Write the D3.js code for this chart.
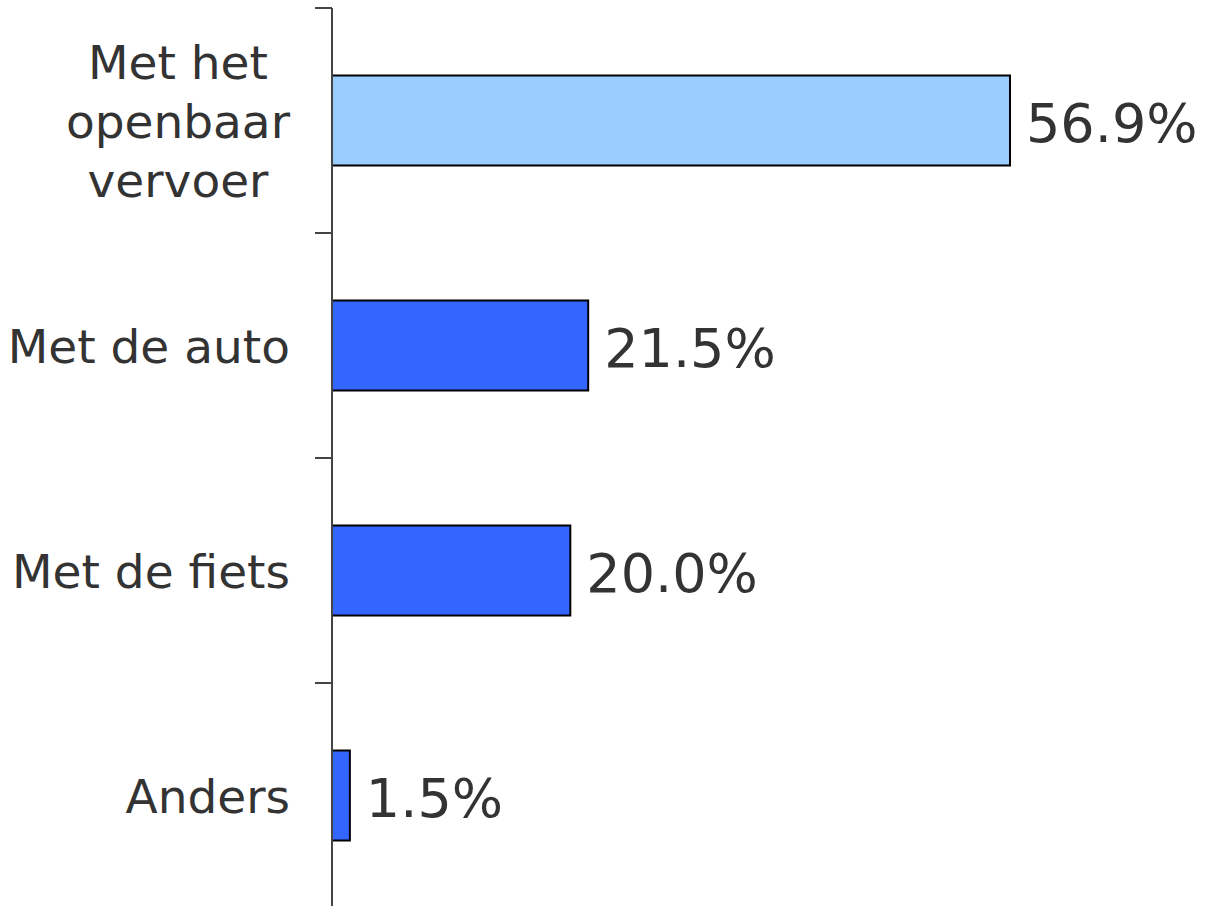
<!DOCTYPE html>
<html>
<head>
<meta charset="utf-8">
<script src="https://cdn.jsdelivr.net/npm/d3@7"></script>
<style>
  body { margin: 0; background: #fff; }
  text { font-family: Verdana, "DejaVu Sans", sans-serif; fill: #333; }
</style>
</head>
<body>
<div id="chart"></div>
<script>
// chart data
const categories = [["Met het", "openbaar", "vervoer"], ["Met de auto"], ["Met de fiets"], ["Anders"]];
const values = [56.9, 21.5, 20.0, 1.5];
const valueLabels = ["56.9%", "21.5%", "20.0%", "1.5%"];
const barColors = ["#99ccff", "#3366ff", "#3366ff", "#3366ff"];

const width = 1206, height = 906;
const margin = {top: 8, right: 0, bottom: 0, left: 332};

const svg = d3.select("#chart").append("svg")
    .attr("width", width)
    .attr("height", height);

const x = d3.scaleLinear()
    .domain([0, 56.9])
    .range([margin.left, 1010]);

const y = d3.scaleBand()
    .domain(d3.range(values.length))
    .range([margin.top, margin.top + 900])
    .paddingInner(0.6)
    .paddingOuter(0.3);

// bars
svg.append("g")
    .selectAll("rect")
    .data(values)
    .join("rect")
    .attr("x", x(0))
    .attr("y", (d, i) => y(i))
    .attr("width", d => x(d) - x(0))
    .attr("height", y.bandwidth())
    .attr("fill", (d, i) => barColors[i])
    .attr("stroke", "#000")
    .attr("stroke-width", 2);

// axis line with ticks at band boundaries
const step = y.step();
const tickPos = d3.range(values.length).map(i => margin.top + i * step);
svg.append("line")
    .attr("x1", margin.left).attr("x2", margin.left)
    .attr("y1", margin.top).attr("y2", height)
    .attr("stroke", "#444")
    .attr("stroke-width", 2);
svg.append("g")
    .selectAll("line")
    .data(tickPos)
    .join("line")
    .attr("x1", margin.left - 17).attr("x2", margin.left)
    .attr("y1", d => d).attr("y2", d => d)
    .attr("stroke", "#444")
    .attr("stroke-width", 2);

// category labels
const labelRight = 290;
const lineH = 59;
categories.forEach(function(lines, i) {
    const cy = y(i) + y.bandwidth() / 2;
    const g = svg.append("g");
    const texts = lines.map(function(line, j) {
        return g.append("text")
            .attr("y", cy + (j - (lines.length - 1) / 2) * lineH)
            .attr("dy", "0.38em")
            .style("font-size", "47px")
            .text(line);
    });
    const maxW = d3.max(texts, t => t.node().getComputedTextLength());
    texts.forEach(function(t) {
        if (lines.length > 1) {
            t.attr("x", labelRight - maxW / 2).attr("text-anchor", "middle");
        } else {
            t.attr("x", labelRight).attr("text-anchor", "end");
        }
    });
});

// value labels
svg.append("g")
    .selectAll("text")
    .data(values)
    .join("text")
    .attr("x", d => x(d) + 16)
    .attr("y", (d, i) => y(i) + y.bandwidth() / 2)
    .attr("dy", "0.4em")
    .style("font-size", "54px")
    .text((d, i) => valueLabels[i]);
</script>
</body>
</html>
